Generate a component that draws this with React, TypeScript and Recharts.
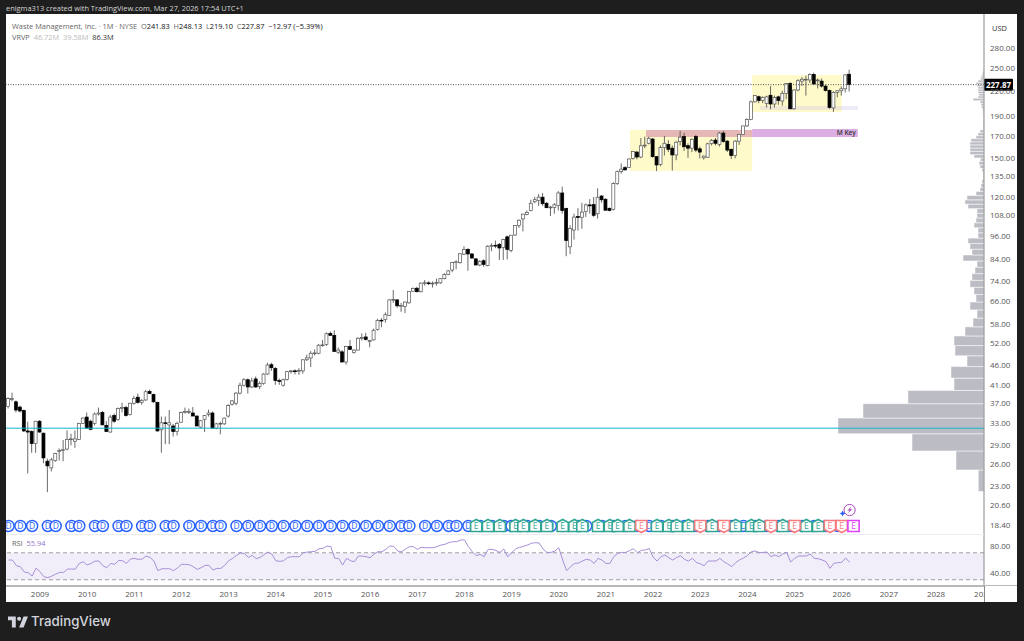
import { Bar, ComposedChart, Line, ReferenceArea, ReferenceLine, XAxis, YAxis } from 'recharts';

// monthly [open, high, low, close], month index 0 = Jan 2009
const candles2008 = [[36.2,38.2,35.8,37.9],[37.9,39.2,37.3,37.9],[37.2,37.5,35.0,35.5],[36.1,36.4,35.0,35.3],[35.4,35.6,31.3,31.5],[31.5,33.2,24.7,31.3],[31.4,31.6,27.8,29.3],[29.3,33.3,27.8,33.3]];
const candles2009 = [[33.3,33.5,31.2,31.3],[31.1,31.2,26.2,27.0],[26.5,26.9,22.2,25.8],[25.5,27.0,25.0,26.7],[26.6,27.8,26.4,27.7],[28.0,28.5,26.6,28.2],[28.2,29.9,26.5,28.3],[28.4,31.6,28.2,30.0],[30.0,31.0,29.0,30.1],[29.7,31.6,28.6,30.1],[30.0,33.0,29.9,32.9],[32.9,34.0,32.8,33.9]];
const candles2010 = [[34.1,35.0,32.0,32.0],[33.3,33.6,31.6,31.8],[32.9,35.0,32.5,34.7],[34.7,36.0,34.4,34.9],[35.0,35.3,32.6,32.6],[32.5,33.3,31.3,31.4],[31.3,34.5,31.2,34.1],[34.4,34.8,33.0,33.3],[33.6,36.0,33.4,35.8],[35.9,37.0,35.0,36.0],[36.0,36.4,34.2,34.4],[34.6,37.0,34.4,36.9]];
const candles2011 = [[36.9,38.5,36.6,37.9],[38.2,39.0,36.8,37.1],[37.1,37.8,36.6,37.5],[37.6,39.8,37.4,39.4],[39.5,39.9,38.9,39.0],[38.8,39.0,37.0,37.2],[37.1,37.2,31.4,31.5],[31.7,34.2,27.8,33.0],[33.0,34.2,29.2,32.9],[32.6,35.5,29.2,33.0],[32.4,32.8,30.5,31.4],[31.4,33.2,30.7,32.9]];
const candles2012 = [[33.1,35.2,33.0,35.0],[35.2,36.0,34.8,35.2],[35.2,35.8,34.7,35.2],[34.9,36.1,34.3,34.3],[34.3,34.4,32.4,32.4],[32.2,33.5,32.0,33.4],[33.6,34.5,31.3,34.4],[34.6,35.6,34.2,34.9],[34.9,35.2,32.0,32.0],[32.0,33.0,31.8,32.8],[32.8,33.2,30.9,32.9],[32.8,34.0,32.6,33.9]];
const candles2013 = [[34.3,36.7,34.0,36.4],[36.7,37.6,36.4,37.4],[36.9,39.3,36.5,39.1],[39.1,41.5,38.8,40.9],[40.9,42.6,40.6,42.2],[42.2,42.5,39.0,40.5],[40.5,42.7,40.2,41.9],[42.4,43.0,40.3,40.5],[40.6,41.8,40.0,41.3],[41.3,43.8,41.0,43.6],[43.6,46.5,43.4,45.9],[46.0,46.5,44.4,45.2]];
const candles2014 = [[45.0,45.4,41.0,42.0],[42.0,42.5,41.0,41.9],[40.9,42.5,40.6,42.2],[42.3,44.4,42.0,44.2],[44.3,44.6,43.7,44.4],[44.4,44.8,43.5,44.3],[44.3,45.1,43.4,44.5],[44.4,47.4,43.7,47.3],[47.3,48.7,47.0,47.8],[47.8,49.7,45.4,49.1],[49.1,50.2,48.5,49.2],[49.1,51.8,48.8,51.4]];
const candles2015 = [[51.4,53.0,51.0,51.5],[51.6,55.3,51.2,54.9],[55.0,55.6,54.3,54.4],[54.4,56.0,49.6,49.6],[49.4,50.8,48.9,50.0],[49.5,50.0,46.7,46.7],[46.7,51.2,46.0,51.0],[51.0,53.0,50.2,50.2],[49.3,50.3,49.0,50.0],[50.0,53.8,49.9,53.5],[53.5,55.0,52.8,53.7],[53.9,55.2,52.8,53.1]];
const candles2016 = [[52.5,53.0,50.8,52.8],[53.0,56.5,52.8,56.0],[56.3,59.8,55.9,59.2],[59.3,60.0,57.0,59.2],[59.6,62.0,58.5,61.2],[61.0,66.8,60.8,66.6],[66.6,70.5,65.5,66.8],[66.6,66.9,63.7,64.4],[64.4,65.5,62.2,64.5],[64.1,66.0,61.8,65.8],[65.5,70.0,65.2,69.9],[70.0,71.5,69.8,71.1]];
const candles2017 = [[71.2,71.8,69.5,69.8],[69.8,73.6,69.5,73.3],[73.3,74.6,72.3,73.5],[73.4,74.1,72.5,73.2],[73.2,74.0,71.5,73.3],[73.4,75.2,72.3,73.6],[73.4,75.4,73.0,75.2],[75.2,77.6,74.9,77.0],[77.1,79.0,76.7,78.6],[79.0,82.8,78.0,82.5],[82.5,83.5,79.3,82.8],[82.4,87.0,81.9,86.7]];
const candles2018 = [[86.5,90.5,86.0,88.9],[88.9,89.5,78.7,86.6],[86.6,87.0,84.4,84.6],[84.2,84.5,81.2,81.3],[81.3,83.6,80.7,83.0],[83.3,84.0,80.5,81.6],[81.0,91.0,80.7,90.5],[90.7,92.0,88.0,90.9],[91.0,93.5,89.5,90.6],[91.5,92.2,83.7,89.6],[89.8,94.5,83.7,94.0],[95.5,96.2,84.0,88.9]];
const candles2019 = [[88.4,96.5,87.5,96.4],[96.5,102.0,96.0,101.9],[102.0,105.5,100.5,105.0],[105.8,109.0,98.5,108.7],[108.5,111.0,108.0,109.8],[111.0,118.0,110.5,115.7],[116.7,120.0,115.7,118.1],[117.6,122.0,114.0,119.8],[119.8,122.7,114.0,115.4],[115.7,116.5,112.5,112.8],[113.0,114.0,107.5,113.2],[113.0,115.8,109.0,114.7]];
const candles2020 = [[114.2,124.0,111.0,122.7],[122.7,127.2,109.0,111.0],[112.3,112.8,85.5,93.5],[90.2,102.0,86.5,100.1],[99.3,109.0,94.0,106.9],[107.2,112.5,99.0,106.8],[106.8,116.0,100.0,110.0],[110.3,115.5,107.0,114.6],[114.6,118.5,109.0,114.0],[114.8,120.0,107.0,108.0],[109.0,126.0,106.0,119.7],[120.6,121.2,116.0,118.0]];
const candles2021 = [[118.4,119.0,111.0,111.2],[112.4,113.0,110.5,111.0],[111.8,130.5,111.0,129.5],[129.5,139.5,128.5,138.6],[138.6,145.3,137.0,140.6],[141.8,143.0,139.5,140.0],[142.0,149.5,141.5,149.0],[149.5,156.0,148.5,155.5],[155.0,156.0,148.7,150.7],[150.7,168.0,149.7,160.7],[160.7,169.3,158.5,161.3],[163.0,169.3,162.0,167.7]];
const candles2022 = [[167.0,168.0,150.0,151.0],[151.0,151.5,139.0,144.0],[144.5,161.0,143.0,159.0],[159.0,170.0,152.0,163.0],[162.0,166.0,155.0,157.5],[158.5,161.0,139.5,152.5],[152.5,165.0,148.0,164.0],[164.5,175.0,161.0,168.8],[169.4,173.0,156.0,159.8],[160.8,163.0,150.0,158.5],[158.5,167.5,155.0,166.8],[169.4,171.0,155.0,156.8]];
const candles2023 = [[157.9,160.0,149.5,155.0],[150.0,152.0,148.5,151.5],[150.5,163.5,150.0,162.5],[162.8,167.0,161.0,165.8],[166.0,168.0,161.0,163.0],[162.0,174.0,160.0,172.8],[172.8,175.0,163.5,164.7],[165.0,166.0,155.0,156.8],[157.5,158.0,149.0,152.0],[152.0,166.0,149.5,165.0],[165.0,172.0,161.5,171.5],[171.5,180.0,171.0,180.0]];
const candles2024 = [[180.0,188.0,179.0,186.6],[186.6,208.0,186.0,206.5],[206.5,214.5,206.0,214.0],[212.7,214.0,205.0,208.0],[208.0,213.0,205.0,212.0],[204.5,214.0,200.0,212.5],[214.5,226.0,198.0,204.0],[204.0,214.0,200.0,211.7],[212.5,214.0,203.0,208.0],[207.5,220.0,202.0,216.8],[216.8,230.0,210.0,229.4],[229.4,231.0,198.0,198.5]];
const candles2025 = [[198.5,222.0,197.5,221.0],[221.0,235.0,219.5,233.0],[232.5,238.0,226.0,235.0],[234.0,240.0,214.0,235.0],[234.0,243.0,230.0,241.5],[241.5,244.0,228.0,228.7],[233.0,236.0,223.0,234.0],[232.5,236.0,224.0,226.0],[226.0,228.0,219.0,220.5],[220.5,221.5,198.5,200.0],[199.5,219.5,195.0,218.0],[218.0,221.0,212.0,220.0]];
const candles2026 = [[220.0,225.5,214.0,222.5],[222.5,242.0,218.0,240.84],[241.83,248.13,219.1,227.87]];

const rsiValues = [
  59.2,59.2,50.8,49.3,41.4,40.4,35.5,47.3,
  41.9,34.5,33,35.5,38.4,40.9,40.9,45.8,45.8,45.8,54.2,56.7,
  51.8,54.2,57.7,57.7,50.8,47.8,54.2,52.8,58.7,58.2,54.2,60.7,
  61.6,60.2,60.7,65.1,63.1,57.7,43.4,46.3,46.3,46.3,43.4,47.8,
  52.8,52.8,52.3,49.3,45.3,47.8,51.3,51.3,44.4,46.8,46.8,51.3,
  58.2,61.6,66.1,69.6,69.1,63.1,66.1,61.2,63.1,67.1,71,68.1,
  58.2,57.2,58.2,63.1,64.1,64.1,64.1,70.1,71,71.5,72,76,
  76.5,79.9,79,61.7,61.7,51.8,61.7,58.2,56.7,65.1,65.1,64.1,
  62.6,68.1,71.5,71.5,75,80,79.4,72.5,71.5,75.5,79,79,
  75,78,77.5,77.5,77.5,79,81.4,82.4,84.9,86.4,86.4,88.8,
  89.3,79,71.5,65.6,67.6,64.1,75,75,73.5,70.5,75.5,64.1,
  70,75.5,78,79.4,81.4,83.9,84.9,84.4,75.5,70.5,70.5,72.5,
  77.5,59.2,43.4,49.3,54.2,54.7,57.7,60.2,59.2,54.2,61.7,59.2,
  54.2,54.2,64.1,69.1,70.5,70.5,73,76,70,73.5,74,76.5,
  63.6,57.7,64.1,66.6,62.6,59.2,63.1,65.6,60.2,57.7,61.7,55.7,
  53.7,50.8,57.7,57.8,57.8,61.7,56.8,53.3,49.4,55.3,59.3,62.2,
  65.7,71.6,72.6,70.1,70.6,71.1,64.2,66.7,64.2,68.2,70.6,56.3,
  61.7,65.2,65.2,65.2,68.2,61.7,61.2,59.3,56.8,46.9,54.3,55.3,
  55.8,62.2,55.94,
];

// visible range volume rows, as lengths, lowest price first
const vpRowStart = 22.3;
const vpRowSize = 2.9;
const vpVolumes = [
  5.7,28,72,146,121,76,30,33,17,29,30,19,11,7,14,8,10,14,12,9,7,21,12,14,16,6,6,10,8,7,7,
  16,19,17,8,4,3,2,1,1,2,4,5,3.7,10,14,14,14,14,13,8,6,4,1,1,0.8,0.8,0.8,1,1.2,1.5,2.5,3,4,
  11,6,5,6,6,6,7,8,6,3.5,3,2,1.5,1,0.5,
];

const priceTicks = [280, 250, 220, 190, 170, 150, 135, 120, 108, 96, 84, 74, 66, 58, 52, 46, 41, 37, 33, 29, 26, 23, 20.6, 18.4];
const rsiTicks = [80, 40];
const yearTicks = [0, 12, 24, 36, 48, 60, 72, 84, 96, 108, 120, 132, 144, 156, 168, 180, 192, 204, 216, 228, 240];

const dividendMonths = [-8,-5,-2,2,4,8,10,14,16,20,22,26,28,32,34,38,41,44,46,50,53,56,59,62,65,68,71,74,77,80,83,86,89,92,94,98,101,104,106,109,112,115,118,120,124,127,130,133,137,139,143,146,149,152,155,158,161,164,167,170,173,176,179,182,185,188,191,194,197,200,203];
const earningsUp = [111,114,117,121,123,126,129,133,136,138,142,145,147,150,157,160,162,165,171,177,181,183,189,195,198];
const earningsDown = [153,168,174,186,192,201,204];
const earningsNext = [207];
const markerPrice = 18.3;
const aiMarker = [{ t: 206, price: 20.05 }];

const monthMin = -8.65;
const monthMax = 240.2;
const lastClose = 227.87;
const supportPrice = 32;
// the profile rows hang off the right edge of the plot: one volume unit is this many months wide
const monthsPerVolume = 0.2545;

const allCandles = [candles2008, candles2009, candles2010, candles2011, candles2012, candles2013, candles2014, candles2015, candles2016, candles2017, candles2018, candles2019, candles2020, candles2021, candles2022, candles2023, candles2024, candles2025, candles2026].flat();

const data = allCandles.map(([open, high, low, close], i) => ({
  t: i - 8,
  open,
  high,
  low,
  close,
  range: [low, high],
  rsi: rsiValues[i],
}));

const toMarkers = (months: number[]) => months.map((t) => ({ t, price: markerPrice }));

const FONT = '"Open Sans", sans-serif';

function Candle(props: any) {
  const { x, y, width, height, payload } = props;
  const { open, high, low, close } = payload;
  // body edges sit between the high and the low on the log scale
  const yAt = (p: number) => y + (height * Math.log(high / p)) / Math.log(high / low);
  const cx = x + width / 2;
  const up = close >= open;
  const top = yAt(Math.max(open, close));
  const bottom = yAt(Math.min(open, close));
  return (
    <g>
      <line x1={cx} x2={cx} y1={y} y2={y + height} stroke="#444" strokeWidth={0.8} />
      <rect
        x={x}
        y={top}
        width={width}
        height={Math.max(bottom - top, 0.8)}
        fill={up ? '#fff' : '#000'}
        stroke={up ? '#555' : '#000'}
        strokeWidth={0.7}
      />
    </g>
  );
}

function DividendMark({ cx, cy }: any) {
  return (
    <g>
      <circle cx={cx} cy={cy} r={5.5} fill="#fff" stroke="#2962ff" strokeWidth={1.5} />
      <text x={cx} y={cy + 3} textAnchor="middle" fontSize={8.5} fontFamily={FONT} fill="#2962ff">D</text>
    </g>
  );
}

function EarningsMark({ cx, cy, color, dir }: any) {
  const w = 5.6;
  const points =
    dir > 0
      ? `${cx - w},${cy - 3.5} ${cx},${cy - 6.5} ${cx + w},${cy - 3.5} ${cx + w},${cy + 5.5} ${cx - w},${cy + 5.5}`
      : dir < 0
        ? `${cx - w},${cy - 5.5} ${cx + w},${cy - 5.5} ${cx + w},${cy + 3.5} ${cx},${cy + 6.5} ${cx - w},${cy + 3.5}`
        : `${cx - w},${cy - 5.5} ${cx + w},${cy - 5.5} ${cx + w},${cy + 5.5} ${cx - w},${cy + 5.5}`;
  return (
    <g>
      <polygon points={points} fill="#fff" stroke={color} strokeWidth={1.6} />
      <text x={cx} y={cy + 3} textAnchor="middle" fontSize={8.5} fontFamily={FONT} fill={color}>E</text>
    </g>
  );
}

function AiMark({ cx, cy }: any) {
  return (
    <g>
      <circle cx={cx} cy={cy} r={5.6} fill="#fff" stroke="#ab47bc" strokeWidth={1} />
      <path d={`M${cx + 1.5} ${cy - 3.5} L${cx - 2} ${cy + 0.5} L${cx} ${cy + 0.5} L${cx - 1.5} ${cy + 3.5} L${cx + 2.5} ${cy - 1} L${cx + 0.5} ${cy - 1} Z`} fill="#ab47bc" />
      <path d={`M${cx - 7} ${cy + 0.5} l1 2 l2 1 l-2 1 l-1 2 l-1 -2 l-2 -1 l2 -1 Z`} fill="#2962ff" />
    </g>
  );
}

function PriceBadge({ viewBox }: any) {
  const right = viewBox.x + viewBox.width;
  return (
    <g>
      <rect x={right} y={viewBox.y - 6} width={29} height={12} rx={1} fill="#000" />
      <text x={right + 14.5} y={viewBox.y + 3} textAnchor="middle" fontSize={8} fontWeight={700} fontFamily={FONT} fill="#fff">
        {lastClose.toFixed(2)}
      </text>
    </g>
  );
}

function PriceChart() {
  return (
    <ComposedChart width={1011} height={520} data={data} margin={{ top: 0, right: 0, bottom: 0, left: 0 }}>
      <XAxis dataKey="t" type="number" domain={[monthMin, monthMax]} hide allowDataOverflow />
      <YAxis
        orientation="right"
        width={33}
        scale="log"
        domain={[17.48, 341.2]}
        allowDataOverflow
        ticks={priceTicks}
        interval={0}
        tickFormatter={(v: number) => v.toFixed(2)}
        tick={{ fill: '#555', fontSize: 8, fontFamily: FONT }}
        tickLine={false}
        tickMargin={0}
        axisLine={{ stroke: '#888' }}
      />
      <ReferenceArea x1={150.1} x2={181.2} y1={139.1} y2={175.8} fill="#fff9c4" fillOpacity={0.9} stroke="none" />
      <ReferenceArea x1={181.2} x2={204} y1={194.9} y2={240.7} fill="#fff9c4" fillOpacity={0.9} stroke="none" />
      <ReferenceArea x1={154.2} x2={181.2} y1={168.9} y2={175.8} fill="#e6b8b5" fillOpacity={1} stroke="none" />
      <ReferenceArea
        x1={181.2}
        x2={208.1}
        y1={168.9}
        y2={176.9}
        fill="#dcaee3"
        fillOpacity={1}
        stroke="none"
        label={{ value: 'M Key', position: 'insideRight', offset: 2, fontSize: 6.5, fontWeight: 600, fontFamily: FONT, fill: '#333' }}
      />
      <ReferenceArea x1={183.2} x2={208.1} y1={197} y2={201.6} fill="#d1c4e9" fillOpacity={0.35} stroke="none" />
      {vpVolumes.map((volume, k) => (
        <ReferenceArea
          key={k}
          x1={monthMax - volume * monthsPerVolume}
          x2={monthMax}
          y1={vpRowStart + k * vpRowSize}
          y2={vpRowStart + (k + 1) * vpRowSize}
          fill="#bcbdc4"
          fillOpacity={1}
          stroke="#fff"
          strokeWidth={0.5}
        />
      ))}
      <ReferenceLine y={supportPrice} stroke="#12b5cb" strokeWidth={1} />
      <ReferenceLine y={lastClose} stroke="#555" strokeWidth={1} strokeDasharray="1 1.5" label={<PriceBadge />} />
      <Bar dataKey="range" barSize={3} shape={<Candle />} isAnimationActive={false} />
      <Line data={toMarkers(dividendMonths)} dataKey="price" stroke="none" dot={<DividendMark />} activeDot={false} legendType="none" isAnimationActive={false} />
      <Line data={toMarkers(earningsUp)} dataKey="price" stroke="none" dot={<EarningsMark color="#2fa592" dir={1} />} activeDot={false} isAnimationActive={false} />
      <Line data={toMarkers(earningsDown)} dataKey="price" stroke="none" dot={<EarningsMark color="#f77c80" dir={-1} />} activeDot={false} isAnimationActive={false} />
      <Line data={toMarkers(earningsNext)} dataKey="price" stroke="none" dot={<EarningsMark color="#e040fb" dir={0} />} activeDot={false} isAnimationActive={false} />
      <Line data={aiMarker} dataKey="price" stroke="none" dot={<AiMark />} activeDot={false} isAnimationActive={false} />
    </ComposedChart>
  );
}

function RsiChart() {
  return (
    <ComposedChart width={1011} height={68} data={data} margin={{ top: 0, right: 0, bottom: 0, left: 0 }}>
      <XAxis
        dataKey="t"
        type="number"
        domain={[monthMin, monthMax]}
        allowDataOverflow
        ticks={yearTicks}
        interval={0}
        height={17}
        tickFormatter={(t: number) => String(2009 + t / 12)}
        tick={{ fill: '#555', fontSize: 8, fontFamily: FONT }}
        tickLine={false}
        tickMargin={0}
        axisLine={false}
      />
      <YAxis
        orientation="right"
        width={33}
        domain={[22.2, 97.8]}
        allowDataOverflow
        ticks={rsiTicks}
        interval={0}
        tickFormatter={(v: number) => v.toFixed(2)}
        tick={{ fill: '#555', fontSize: 8, fontFamily: FONT }}
        tickLine={false}
        tickMargin={0}
        axisLine={{ stroke: '#888' }}
      />
      <ReferenceArea y1={30} y2={70} fill="#7e57c2" fillOpacity={0.1} stroke="none" />
      <ReferenceLine y={70} stroke="#888" strokeDasharray="4 3" strokeWidth={0.8} />
      <ReferenceLine y={30} stroke="#888" strokeDasharray="4 3" strokeWidth={0.8} />
      <Line dataKey="rsi" stroke="#a88fd8" strokeWidth={1} dot={false} activeDot={false} isAnimationActive={false} />
    </ComposedChart>
  );
}

function Label({ x, y, size = 8, color = '#555', children, style }: any) {
  return (
    <div style={{ position: 'absolute', left: x, top: y, fontSize: size, color, whiteSpace: 'pre', lineHeight: 1, fontFamily: FONT, ...style }}>
      {children}
    </div>
  );
}

export default function App() {
  return (
    <div style={{ position: 'fixed', left: 0, top: 0, width: 1024, height: 641, background: '#1e1e1e', overflow: 'hidden' }}>
      <div style={{ position: 'absolute', left: 6, top: 14, width: 1011, height: 588, background: '#fff' }} />
      <Label x={6} y={5} size={7.4} color="#d6d6d6">enigma313 created with TradingView.com, Mar 27, 2026 17:54 UTC+1</Label>

      <div style={{ position: 'absolute', left: 6, top: 14 }}>
        <PriceChart />
      </div>
      <div style={{ position: 'absolute', left: 6, top: 534 }}>
        <RsiChart />
      </div>

      <div style={{ position: 'absolute', left: 6, top: 534, width: 978, height: 1, background: '#ececf0' }} />
      <div style={{ position: 'absolute', left: 6, top: 585, width: 1011, height: 1.5, background: '#b8b8b8' }} />
      <div style={{ position: 'absolute', left: 984, top: 586, width: 33, height: 16, background: '#fff', borderLeft: '1px solid #888', boxSizing: 'border-box' }} />

      <Label x={12} y={23} size={7.4} color="#666">
        {'Waste Management, Inc. · 1M · NYSE  '}
        <span>O</span><span style={{ color: '#111' }}>241.83 </span>
        <span> H</span><span style={{ color: '#111' }}>248.13 </span>
        <span> L</span><span style={{ color: '#111' }}>219.10 </span>
        <span> C</span><span style={{ color: '#111' }}>227.87  −12.97 (−5.39%)</span>
      </Label>
      <Label x={12} y={34} size={7.4} color="#666">
        {'VRVP  '}
        <span style={{ color: '#bbb' }}>46.72M  39.58M  </span>
        <span style={{ color: '#333' }}>86.3M</span>
      </Label>
      <Label x={992} y={25} size={7.4} color="#333">USD</Label>
      <Label x={12} y={540} size={7.4} color="#666">
        {'RSI  '}
        <span style={{ color: '#9575cd' }}>55.94</span>
      </Label>

      <svg style={{ position: 'absolute', left: 8, top: 616 }} width={20} height={12} viewBox="0 0 36 20">
        <path d="M14 20H7V7H0V0h14v20zM28 20h-8L28 0h8l-8 20z" fill="#d1d4dc" />
        <circle cx="20" cy="4" r="3.6" fill="#d1d4dc" />
      </svg>
      <Label x={31} y={615} size={13.3} color="#d1d4dc" style={{ fontFamily: 'Inter, sans-serif', fontWeight: 500 }}>TradingView</Label>
    </div>
  );
}
